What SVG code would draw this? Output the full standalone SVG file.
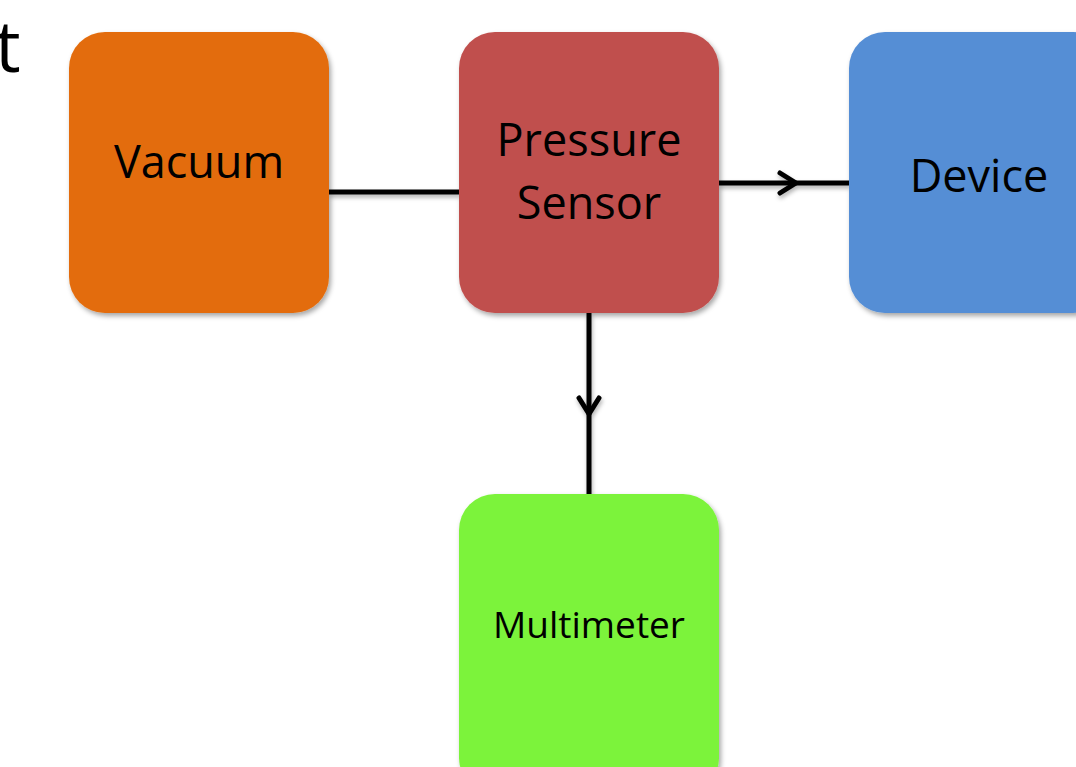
<svg xmlns="http://www.w3.org/2000/svg" width="1076" height="767" viewBox="0 0 1076 767">
<style>
.lbl{font-family:"Open Sans","DejaVu Sans",sans-serif;fill:#000;text-anchor:middle}
.con{stroke:#000;stroke-width:5;fill:none}
</style>
<defs>
<filter id="sh" x="-10%" y="-10%" width="125%" height="125%">
<feDropShadow dx="2" dy="3" stdDeviation="2.5" flood-color="#000" flood-opacity="0.35"/>
</filter>
<filter id="lsh" x="-20%" y="-20%" width="140%" height="140%" filterUnits="userSpaceOnUse">
<feDropShadow dx="1" dy="3" stdDeviation="2" flood-color="#000" flood-opacity="0.3"/>
</filter>
<marker id="chev" viewBox="0 0 26 26" refX="21" refY="13" markerWidth="26" markerHeight="26" markerUnits="userSpaceOnUse" orient="auto">
<path d="M5,3 L21,13 L5,23" fill="none" stroke="#000" stroke-width="5" stroke-linecap="round" stroke-linejoin="round"/>
</marker>
</defs>
<rect width="1076" height="767" fill="#fff"/>
<text x="-5" y="72" style="font-family:'Open Sans','DejaVu Sans',sans-serif;font-size:72px">t</text>
<g id="connectors" filter="url(#lsh)">
<line class="con" x1="329" y1="192" x2="459" y2="192"/>
<path class="con" d="M719,183 L796,183" marker-end="url(#chev)"/>
<line class="con" x1="796" y1="183" x2="849" y2="183"/>
<path class="con" d="M589,313 L589,414" marker-end="url(#chev)"/>
<line class="con" x1="589" y1="414" x2="589" y2="494"/>
</g>
<g id="vacuum">
<rect x="69" y="32" width="260" height="281" rx="36" fill="#E36C0A" filter="url(#sh)"/>
<text class="lbl" x="199" y="178" font-size="45">Vacuum</text>
</g>
<g id="pressure-sensor">
<rect x="459" y="32" width="260" height="281" rx="36" fill="#C0504D" filter="url(#sh)"/>
<text class="lbl" x="589" y="156" font-size="45">Pressure</text>
<text class="lbl" x="589" y="219" font-size="45">Sensor</text>
</g>
<g id="device">
<rect x="849" y="32" width="260" height="281" rx="36" fill="#558ED5" filter="url(#sh)"/>
<text class="lbl" x="979" y="192" font-size="45">Device</text>
</g>
<g id="multimeter">
<rect x="459" y="494" width="260" height="300" rx="36" fill="#7CF33A" filter="url(#sh)"/>
<text class="lbl" x="589" y="638" font-size="37">Multimeter</text>
</g>
</svg>
